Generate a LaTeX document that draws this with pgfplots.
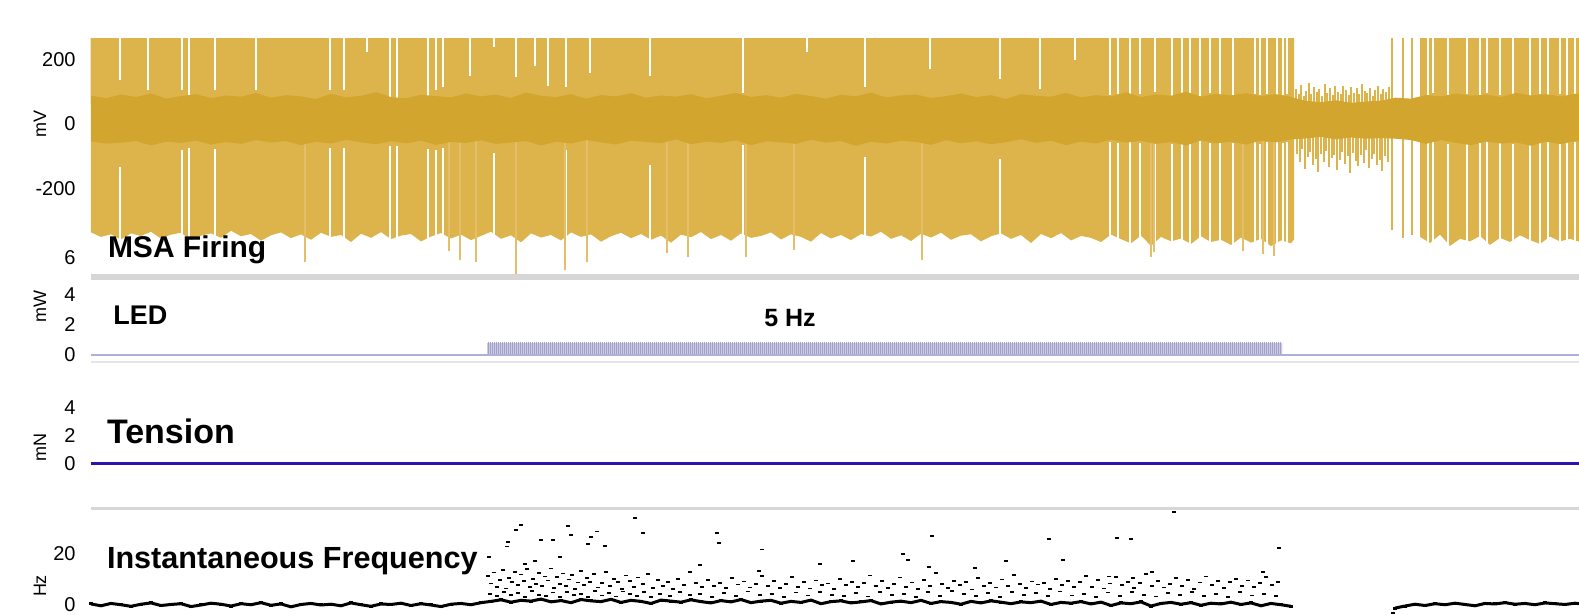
\documentclass[border=0pt]{standalone}
\usepackage{pgfplots}
\pgfplotsset{compat=1.18}
\usepackage{pgfplotstable}
\usepackage{fontspec}
\setmainfont{Liberation Sans}
\usetikzlibrary{patterns.meta}
\definecolor{spike}{RGB}{221,180,76}
\definecolor{core}{RGB}{210,165,46}
\definecolor{gap}{RGB}{255,255,255}
\definecolor{tail}{RGB}{228,190,105}
\definecolor{ledfill}{RGB}{204,204,228}
\definecolor{ledstripe}{RGB}{160,160,202}
\definecolor{ledline}{RGB}{175,175,215}
\definecolor{tens}{RGB}{42,22,172}
\definecolor{sep}{RGB}{214,214,214}
\definecolor{sepl}{RGB}{228,228,236}

% MSA: spike envelope, firing period 1 (top corners + jagged lower edge)
\pgfplotstableread[row sep=\\]{x y\\
90.6 300\\ 91 -338\\ 101 -352\\ 111 -344\\ 121 -360\\ 131 -341\\ 141 -349\\ 151 -336\\ 161 -357\\ 171 -345\\ 181 -339\\ 191 -362\\ 201 -348\\ 211 -341\\ 221 -355\\ 231 -333\\ 241 -350\\ 251 -343\\ 261 -364\\ 271 -347\\ 281 -338\\ 291 -356\\ 301 -344\\ 311 -361\\ 321 -339\\ 331 -352\\ 341 -346\\ 351 -368\\ 361 -342\\ 371 -355\\ 381 -337\\ 391 -359\\ 401 -348\\ 411 -343\\ 421 -366\\ 431 -351\\ 441 -340\\ 451 -357\\ 461 -345\\ 471 -362\\ 481 -349\\ 491 -336\\ 501 -358\\ 511 -347\\ 521 -369\\ 531 -341\\ 541 -354\\ 551 -346\\ 561 -363\\ 571 -338\\ 581 -352\\ 591 -344\\ 601 -367\\ 611 -350\\ 621 -339\\ 631 -356\\ 641 -343\\ 651 -361\\ 661 -348\\ 671 -370\\ 681 -345\\ 691 -353\\ 701 -337\\ 711 -359\\ 721 -346\\ 731 -364\\ 741 -341\\ 751 -355\\ 761 -349\\ 771 -338\\ 781 -360\\ 791 -344\\ 801 -352\\ 811 -367\\ 821 -340\\ 831 -357\\ 841 -346\\ 851 -362\\ 861 -343\\ 871 -351\\ 881 -336\\ 891 -358\\ 901 -347\\ 911 -365\\ 921 -342\\ 931 -354\\ 941 -339\\ 951 -361\\ 961 -348\\ 971 -344\\ 981 -366\\ 991 -350\\ 1001 -341\\ 1011 -358\\ 1021 -346\\ 1031 -371\\ 1041 -343\\ 1051 -356\\ 1061 -340\\ 1071 -363\\ 1081 -349\\ 1091 -355\\ 1101 -368\\ 1111 -345\\ 1121 -359\\ 1131 -372\\ 1141 -348\\ 1151 -380\\ 1161 -352\\ 1171 -366\\ 1181 -357\\ 1191 -374\\ 1201 -350\\ 1211 -368\\ 1221 -361\\ 1231 -377\\ 1241 -354\\ 1251 -370\\ 1261 -358\\ 1271 -381\\ 1281 -363\\ 1291 -372\\ 1294 -360\\ 1294 300\\
}\envA

% MSA: spike envelope, firing period 2
\pgfplotstableread[row sep=\\]{x y\\
1420 300\\ 1420 -352\\ 1430 -371\\ 1440 -345\\ 1450 -380\\ 1460 -358\\ 1470 -366\\ 1480 -349\\ 1490 -377\\ 1500 -355\\ 1510 -368\\ 1520 -347\\ 1530 -362\\ 1540 -374\\ 1550 -351\\ 1560 -366\\ 1570 -358\\ 1582 -370\\ 1582 300\\
}\envB

% MSA: gaps between spikes, upper half (y0 = lower end of gap, len = length)
\pgfplotstableread[row sep=\\]{x y0 len\\
120 137 213\\ 182 106 244\\ 189 80 270\\ 215 106 244\\ 330 106 244\\ 344 106 244\\ 367 225 125\\ 390 75 275\\ 428 80 270\\ 436 106 244\\ 443 115 235\\ 470 150 200\\ 494 240 110\\ 535 180 170\\ 548 120 230\\ 566 115 235\\ 590 160 190\\ 650 150 200\\ 743 97 253\\ 807 225 125\\ 865 115 235\\ 930 170 180\\ 1000 140 210\\ 1075 200 150\\ 1110 90 260\\ 1118 95 255\\ 1130 88 262\\ 1140 92 258\\ 1155 100 250\\ 1172 86 264\\ 1182 94 256\\ 1190 90 260\\ 1210 96 254\\ 1220 91 259\\ 1255 93 257\\ 1260 89 261\\ 1267 95 255\\ 1283 90 260\\ 1287 92 258\\ 1428 90 260\\ 1433 96 254\\ 1448 88 262\\ 1467 94 256\\ 1480 91 259\\ 1487 97 253\\ 1513 93 257\\ 1530 87 263\\ 1548 90 260\\ 1560 92 258\\ 1567 88 262\\ 1575 94 256\\
}\gapsTop
\pgfplotstableread[row sep=\\]{x y0 len\\
148 106 244\\ 256 106 244\\ 397 75 275\\ 516 145 205\\ 1040 110 240\\ 1200 88 262\\ 1233 87 263\\ 1277 86 264\\ 1500 89 261\\ 1540 95 255\\
}\gapsTopWide
% MSA: gaps between spikes, lower half
\pgfplotstableread[row sep=\\]{x y0 len\\
120 -420 286\\ 182 -420 339\\ 189 -420 345\\ 215 -420 342\\ 330 -420 345\\ 344 -420 345\\ 390 -420 350\\ 428 -420 342\\ 436 -420 339\\ 443 -420 345\\ 494 -420 330\\ 566 -420 339\\ 650 -420 292\\ 743 -420 355\\ 865 -420 317\\ 1000 -420 310\\ 1110 -420 365\\ 1118 -420 360\\ 1130 -420 368\\ 1140 -420 362\\ 1155 -420 365\\ 1172 -420 358\\ 1182 -420 366\\ 1190 -420 363\\ 1210 -420 360\\ 1220 -420 365\\ 1255 -420 367\\ 1260 -420 359\\ 1267 -420 364\\ 1283 -420 361\\ 1287 -420 365\\ 1428 -420 362\\ 1433 -420 365\\ 1448 -420 358\\ 1467 -420 366\\ 1480 -420 360\\ 1487 -420 363\\ 1513 -420 359\\ 1530 -420 364\\ 1548 -420 366\\ 1560 -420 358\\ 1567 -420 363\\ 1575 -420 365\\
}\gapsBot
\pgfplotstableread[row sep=\\]{x y0 len\\
397 -420 350\\ 1200 -420 368\\ 1233 -420 362\\ 1277 -420 368\\ 1500 -420 367\\ 1540 -420 361\\
}\gapsBotWide

% MSA: single spikes (onset of period 2)
\pgfplotstableread[row sep=\\]{x y\\
1392 300\\ 1392 -330\\ 1403 300\\ 1403 -355\\ 1412 300\\ 1412 -345\\
}\isoSpikes
% MSA: small spikes of the quiet period
\pgfplotstableread[row sep=\\]{x y\\
1296 110\\ 1299 95\\ 1301 122\\ 1304 88\\ 1306 104\\ 1309 128\\ 1311 92\\ 1314 115\\ 1317 99\\ 1319 108\\ 1322 86\\ 1325 125\\ 1327 97\\ 1330 112\\ 1333 90\\ 1335 118\\ 1338 101\\ 1341 94\\ 1343 120\\ 1346 106\\ 1349 89\\ 1351 116\\ 1354 98\\ 1357 111\\ 1359 93\\ 1362 124\\ 1365 102\\ 1367 96\\ 1370 113\\ 1373 88\\ 1375 107\\ 1378 119\\ 1381 95\\ 1383 110\\ 1386 100\\ 1389 114\\
1297 -95\\ 1300 -120\\ 1302 -78\\ 1305 -140\\ 1308 -102\\ 1310 -88\\ 1313 -128\\ 1316 -110\\ 1318 -150\\ 1321 -92\\ 1324 -118\\ 1326 -84\\ 1329 -135\\ 1332 -105\\ 1334 -96\\ 1337 -145\\ 1340 -112\\ 1342 -86\\ 1345 -124\\ 1348 -100\\ 1350 -153\\ 1353 -90\\ 1356 -115\\ 1358 -132\\ 1361 -98\\ 1364 -121\\ 1366 -80\\ 1369 -138\\ 1372 -108\\ 1374 -94\\ 1377 -127\\ 1380 -112\\ 1382 -146\\ 1385 -99\\ 1388 -118\\
}\quietSpikes
% MSA: long negative tails
\pgfplotstableread[row sep=\\]{x y\\
305 -430\\ 449 -395\\ 460 -424\\ 476 -430\\ 516 -468\\ 565 -455\\ 587 -430\\ 667 -402\\ 688 -415\\ 746 -415\\ 794 -393\\ 922 -424\\ 1151 -415\\ 1154 -399\\ 1243 -395\\ 1263 -405\\ 1274 -412\\
}\tails

% MSA: dense core (upper edge left to right, lower edge right to left)
\pgfplotstableread[row sep=\\]{x y\\
91 88\\ 106 80\\ 121 92\\ 136 84\\ 151 95\\ 166 79\\ 181 87\\ 196 93\\ 211 81\\ 226 89\\ 241 85\\ 256 97\\ 271 82\\ 286 90\\ 301 86\\ 316 78\\ 331 94\\ 346 83\\ 361 88\\ 376 99\\ 391 84\\ 406 80\\ 421 91\\ 436 87\\ 451 83\\ 466 95\\ 481 86\\ 496 92\\ 511 81\\ 526 98\\ 541 88\\ 556 84\\ 571 93\\ 586 79\\ 601 90\\ 616 86\\ 631 96\\ 646 82\\ 661 89\\ 676 85\\ 691 93\\ 706 80\\ 721 88\\ 736 97\\ 751 84\\ 766 90\\ 781 82\\ 796 94\\ 811 87\\ 826 79\\ 841 91\\ 856 86\\ 871 98\\ 886 83\\ 901 89\\ 916 92\\ 931 81\\ 946 87\\ 961 95\\ 976 84\\ 991 90\\ 1006 78\\ 1021 93\\ 1036 88\\ 1051 85\\ 1066 97\\ 1081 83\\ 1096 90\\ 1111 86\\ 1126 99\\ 1141 84\\ 1156 92\\ 1171 88\\ 1186 101\\ 1201 85\\ 1216 94\\ 1231 89\\ 1246 96\\ 1261 87\\ 1276 93\\ 1291 84\\ 1306 72\\ 1321 68\\ 1336 74\\ 1351 66\\ 1366 70\\ 1381 73\\ 1396 82\\ 1411 79\\ 1426 90\\ 1441 86\\ 1456 95\\ 1471 88\\ 1486 92\\ 1501 84\\ 1516 97\\ 1531 89\\ 1546 93\\ 1561 86\\ 1576 95\\ 1582 90\\
1582 -58\\ 1576 -52\\ 1561 -63\\ 1546 -55\\ 1531 -68\\ 1516 -57\\ 1501 -61\\ 1486 -54\\ 1471 -66\\ 1456 -59\\ 1441 -50\\ 1426 -62\\ 1411 -50\\ 1396 -46\\ 1381 -44\\ 1366 -46\\ 1351 -42\\ 1336 -48\\ 1321 -40\\ 1306 -45\\ 1291 -48\\ 1276 -57\\ 1261 -52\\ 1246 -64\\ 1231 -55\\ 1216 -60\\ 1201 -51\\ 1186 -67\\ 1171 -56\\ 1156 -62\\ 1141 -53\\ 1126 -58\\ 1111 -49\\ 1096 -61\\ 1081 -55\\ 1066 -66\\ 1051 -52\\ 1036 -59\\ 1021 -47\\ 1006 -57\\ 991 -63\\ 976 -54\\ 961 -60\\ 946 -50\\ 931 -65\\ 916 -56\\ 901 -52\\ 886 -61\\ 871 -55\\ 856 -68\\ 841 -53\\ 826 -58\\ 811 -49\\ 796 -62\\ 781 -57\\ 766 -54\\ 751 -66\\ 736 -51\\ 721 -59\\ 706 -55\\ 691 -63\\ 676 -48\\ 661 -60\\ 646 -56\\ 631 -52\\ 616 -64\\ 601 -57\\ 586 -50\\ 571 -61\\ 556 -55\\ 541 -67\\ 526 -53\\ 511 -58\\ 496 -62\\ 481 -51\\ 466 -59\\ 451 -56\\ 436 -65\\ 421 -52\\ 406 -60\\ 391 -54\\ 376 -63\\ 361 -57\\ 346 -49\\ 331 -61\\ 316 -55\\ 301 -66\\ 286 -53\\ 271 -58\\ 256 -50\\ 241 -62\\ 226 -56\\ 211 -64\\ 196 -52\\ 181 -59\\ 166 -55\\ 151 -67\\ 136 -53\\ 121 -58\\ 106 -61\\ 91 -54\\
}\core

% Instantaneous frequency: baseline firing
\pgfplotstableread[row sep=\\]{x y\\
91 0.4\\ 101 -0.3\\ 111 0.6\\ 121 0.1\\ 131 -0.5\\ 141 0.3\\ 151 0.8\\ 161 -0.2\\ 171 0.2\\ 181 0.5\\ 191 -0.6\\ 201 0.0\\ 211 0.7\\ 221 0.3\\ 231 -0.4\\ 241 0.5\\ 251 0.1\\ 261 0.9\\ 271 -0.1\\ 281 0.4\\ 291 -0.7\\ 301 0.2\\ 311 0.6\\ 321 0.0\\ 331 0.3\\ 341 -0.3\\ 351 0.8\\ 361 0.1\\ 371 -0.5\\ 381 0.4\\ 391 0.2\\ 401 0.7\\ 411 -0.2\\ 421 0.5\\ 431 0.0\\ 441 -0.6\\ 451 0.3\\ 461 0.6\\ 471 0.1\\ 481 0.9\\
491 1.4\\ 501 2.0\\ 511 1.1\\ 521 1.8\\ 531 1.5\\ 541 2.3\\ 551 1.2\\ 561 1.7\\ 571 0.9\\ 581 2.1\\ 591 1.6\\ 601 1.3\\ 611 2.2\\ 621 1.0\\ 631 1.8\\ 641 1.4\\ 651 0.6\\ 661 1.9\\ 671 1.5\\ 681 1.1\\ 691 2.0\\ 701 1.3\\ 711 0.8\\ 721 1.7\\ 731 1.2\\ 741 2.1\\ 751 0.9\\ 761 1.5\\ 771 1.8\\ 781 0.7\\ 791 1.4\\ 801 1.0\\ 811 1.9\\ 821 0.5\\ 831 1.3\\ 841 1.6\\ 851 0.8\\ 861 1.2\\ 871 1.7\\ 881 0.4\\ 891 1.1\\ 901 1.5\\ 911 0.9\\ 921 1.8\\ 931 0.6\\ 941 1.3\\ 951 1.0\\ 961 0.3\\ 971 1.4\\ 981 0.8\\ 991 1.6\\ 1001 1.1\\ 1011 0.5\\ 1021 1.2\\ 1031 0.9\\ 1041 1.5\\ 1051 0.2\\ 1061 1.0\\ 1071 0.7\\ 1081 1.3\\ 1091 0.4\\ 1101 1.1\\ 1111 -0.2\\ 1121 0.8\\ 1131 0.5\\ 1141 1.2\\ 1151 -0.4\\ 1161 0.6\\ 1171 1.0\\ 1181 0.3\\ 1191 0.9\\ 1201 -0.1\\ 1211 0.7\\ 1221 0.4\\ 1231 1.1\\ 1241 0.2\\ 1251 0.8\\ 1261 -0.3\\ 1271 0.6\\ 1281 0.1\\ 1291 -0.5\\
}\ifbaseA
\pgfplotstableread[row sep=\\]{x y\\
1395 -1.2\\ 1405 -0.4\\ 1415 0.3\\ 1425 -0.2\\ 1435 0.5\\ 1445 0.1\\ 1455 0.7\\ 1465 0.2\\ 1475 -0.3\\ 1485 0.6\\ 1495 0.4\\ 1505 0.9\\ 1515 0.3\\ 1525 0.6\\ 1535 0.1\\ 1545 0.8\\ 1555 0.5\\ 1565 0.2\\ 1575 0.7\\ 1582 0.4\\
}\ifbaseB

% Instantaneous frequency: individual intervals during stimulation
\pgfplotstableread[row sep=\\]{x y\\
488 11.2\\ 491 8.3\\ 494 12.6\\ 497 7.1\\ 500 9.8\\ 503 13.4\\ 506 6.4\\ 509 10.5\\ 512 8.9\\ 515 12.9\\ 518 7.6\\ 521 11.8\\ 524 9.2\\ 527 13.8\\ 530 6.9\\ 533 10.1\\ 536 8.2\\ 539 12.4\\ 542 7.4\\ 545 11.0\\ 548 9.5\\ 551 14.1\\ 554 6.6\\ 557 10.8\\ 560 8.0\\ 563 12.2\\ 566 7.2\\ 569 9.9\\ 572 11.6\\ 575 6.2\\ 578 8.7\\ 581 13.1\\ 584 7.8\\ 587 10.3\\ 590 9.0\\ 594 11.9\\ 598 6.8\\ 602 8.5\\ 606 12.7\\ 610 7.5\\ 614 10.0\\ 618 8.8\\ 622 6.3\\ 626 11.4\\ 630 9.3\\ 634 7.0\\ 638 10.6\\ 643 8.1\\ 648 12.0\\ 653 6.7\\
658 9.6\\ 663 7.3\\ 668 8.9\\ 673 6.1\\ 678 10.2\\ 684 7.7\\ 690 12.8\\ 696 8.4\\ 702 6.9\\ 708 9.7\\ 714 7.2\\ 720 8.6\\ 726 6.5\\ 732 10.4\\ 738 7.9\\ 744 9.1\\ 750 6.8\\ 756 8.2\\ 762 11.1\\ 768 7.4\\ 774 9.3\\ 780 6.6\\ 786 8.0\\ 792 10.9\\ 798 7.1\\ 804 8.8\\ 810 6.4\\ 816 9.5\\ 822 7.6\\ 828 8.3\\ 834 6.2\\ 840 10.1\\ 846 7.8\\ 852 9.0\\ 858 6.9\\ 864 8.5\\ 870 11.4\\ 876 7.3\\ 882 9.2\\ 888 6.7\\ 894 8.1\\ 900 10.6\\ 906 7.0\\ 912 8.7\\ 918 6.3\\ 924 9.8\\ 930 7.5\\ 936 12.3\\ 942 8.2\\ 948 6.6\\ 954 9.4\\ 960 7.7\\ 966 8.9\\ 972 6.0\\ 978 10.3\\ 984 7.2\\ 990 8.6\\ 996 6.8\\ 1002 9.9\\ 1008 7.4\\ 1014 11.7\\ 1020 8.0\\ 1026 6.5\\ 1032 9.1\\ 1038 7.9\\ 1044 8.4\\ 1050 6.2\\ 1056 10.0\\ 1062 7.6\\ 1068 9.3\\ 1074 6.9\\ 1080 8.8\\ 1086 11.2\\ 1092 7.1\\ 1098 9.6\\ 1104 6.4\\ 1110 8.3\\ 1116 10.8\\ 1122 7.8\\ 1128 9.0\\ 1134 6.6\\ 1140 8.5\\ 1146 12.0\\ 1152 7.3\\ 1158 9.4\\ 1164 6.8\\ 1170 8.1\\ 1176 10.5\\ 1182 7.5\\ 1188 9.8\\ 1194 6.3\\ 1200 8.7\\ 1206 11.0\\ 1212 7.7\\ 1218 9.2\\ 1224 6.5\\ 1230 8.9\\ 1236 10.2\\ 1242 7.2\\ 1248 9.5\\ 1254 6.9\\ 1260 8.4\\ 1266 10.9\\ 1272 7.6\\ 1278 9.0\\
490 4.2\\ 497 3.4\\ 504 5.1\\ 511 3.8\\ 518 4.6\\ 525 3.1\\ 532 5.4\\ 539 4.0\\ 546 3.5\\ 553 4.8\\ 560 3.2\\ 567 5.0\\ 574 3.9\\ 581 4.4\\ 588 3.0\\ 595 5.3\\ 602 3.7\\ 609 4.5\\ 616 3.3\\ 623 5.2\\ 630 4.1\\ 637 3.6\\ 644 4.9\\ 651 3.2\\ 660 4.3\\ 670 3.5\\ 680 5.0\\ 690 3.8\\ 700 4.4\\ 712 3.1\\ 724 4.7\\ 736 3.6\\ 748 5.2\\ 760 3.9\\ 772 4.3\\ 784 3.2\\ 796 4.8\\ 808 3.7\\ 820 5.1\\ 832 4.0\\ 844 3.4\\ 856 4.6\\ 868 3.3\\ 880 5.0\\ 892 3.8\\ 904 4.4\\ 916 3.1\\ 928 4.9\\ 940 3.6\\ 952 5.3\\ 964 4.1\\ 976 3.5\\ 988 4.7\\ 1000 3.2\\ 1012 5.0\\ 1024 3.9\\ 1036 4.5\\ 1048 3.4\\ 1060 5.2\\ 1072 3.7\\ 1084 4.3\\ 1096 3.0\\ 1108 4.8\\ 1120 3.6\\ 1132 5.1\\ 1144 4.0\\ 1156 3.3\\ 1168 4.6\\ 1180 3.8\\ 1192 5.0\\ 1204 3.5\\ 1216 4.4\\ 1228 3.1\\ 1240 4.9\\ 1252 3.7\\ 1264 4.2\\ 1276 3.4\\
516 29.0\\ 521 30.9\\ 508 24.5\\ 507 22.6\\ 541 25.1\\ 553 25.1\\ 568 30.6\\ 571 27.0\\ 591 26.4\\ 597 28.4\\ 588 23.6\\ 605 22.8\\ 635 33.5\\ 643 27.7\\ 717 28.0\\ 719 23.9\\ 762 21.5\\ 932 26.7\\ 1049 25.4\\ 1117 26.0\\ 1131 25.6\\ 903 19.7\\ 908 17.4\\ 929 14.6\\ 853 17.0\\ 1006 17.1\\ 759 13.3\\ 535 16.9\\ 489 18.7\\ 1174 36.0\\ 1279 22.0\\ 1152 12.9\\ 1263 12.8\\ 1109 11.0\\ 1133 10.4\\ 1063 17.5\\ 820 16.0\\ 700 15.5\\ 975 14.2\\ 560 18.5\\ 525 15.8\\ 1393 -3.0\\
}\ifscatter

\pgfplotsset{panel/.style={
  scale only axis, width=744.2pt, anchor=south west,
  xmin=90.6, xmax=1579,
  axis line style={draw=none}, tick style={draw=none},
  major tick length=0pt, xtick=\empty,
  yticklabel style={font=\fontsize{10}{12}\selectfont, anchor=east, inner sep=0pt, xshift=-7.3pt},
},
gapbars/.style={draw=none, mark=none,
  error bars/.cd, y dir=plus, y explicit, error mark=none,
  error bar style={draw=gap, line width=#1}}}

\begin{document}
\begin{tikzpicture}
\useasboundingbox (0,0) rectangle (789.5pt,307.5pt);

% ---------------- MSA firing ----------------
\begin{axis}[panel, at={(45.3pt,170.5pt)}, height=117.85pt,
  ymin=-467.7, ymax=267.2, ytick={-200,0,200}, yticklabels={-200,0,200}]
  \addplot[fill=spike, draw=none] table[x=x,y=y]{\envA};
  \addplot[fill=spike, draw=none] table[x=x,y=y]{\envB};
  \addplot[ycomb, draw=spike, line width=0.7pt] table[x=x,y=y]{\isoSpikes};
  \addplot[gapbars=0.55pt] table[x=x,y=y0,y error=len]{\gapsTop};
  \addplot[gapbars=1.1pt] table[x=x,y=y0,y error=len]{\gapsTopWide};
  \addplot[gapbars=0.55pt] table[x=x,y=y0,y error=len]{\gapsBot};
  \addplot[gapbars=1.1pt] table[x=x,y=y0,y error=len]{\gapsBotWide};
  \addplot[ycomb, draw=spike, line width=0.65pt] table[x=x,y=y]{\quietSpikes};
  \addplot[ycomb, draw=tail, line width=0.55pt] table[x=x,y=y]{\tails};
  \addplot[fill=core, draw=none] table[x=x,y=y]{\core};
\end{axis}

% ---------------- LED ----------------
\begin{axis}[panel, at={(45.3pt,127pt)}, height=40pt,
  ymin=-0.396, ymax=4.884, ytick={0,2,4}, yticklabels={0,2,4}]
  \addplot[fill=ledfill, draw=none] coordinates {(487,0) (487,0.81) (1282,0.81) (1282,0)};
  \addplot[pattern={Lines[angle=90,distance=1pt,line width=0.45pt]}, pattern color=ledstripe, draw=none]
    coordinates {(487,0) (487,0.81) (1282,0.81) (1282,0)};
  \addplot[color=ledline, line width=0.7pt] coordinates {(90.6,0) (487,0) (1282,0) (1582,0)};
\end{axis}

% ---------------- Tension ----------------
\begin{axis}[panel, at={(45.3pt,54pt)}, height=72pt,
  ymin=-3.107, ymax=7.179, ytick={0,2,4}, yticklabels={0,2,4}]
  \addplot[color=tens, line width=1.1pt] coordinates {(90.6,0) (1582,0)};
\end{axis}

% ---------------- Instantaneous frequency ----------------
\begin{axis}[panel, at={(45.3pt,0pt)}, height=52.5pt,
  ymin=-3.868, ymax=36.75, ytick={0,20}, yticklabels={0,20}]
  \addplot[black, line width=1.5pt, mark=-, mark size=1pt] table[x=x,y=y]{\ifbaseA};
  \addplot[black, line width=1.5pt, mark=-, mark size=1pt] table[x=x,y=y]{\ifbaseB};
  \addplot[only marks, mark=-, mark size=1pt, mark options={line width=0.9pt, black}] table[x=x,y=y]{\ifscatter};
\end{axis}

% panel separators
\fill[sep] (45.3pt,167.3pt) rectangle (789.5pt,170.3pt);
\fill[sepl] (45.3pt,126pt) rectangle (789.5pt,126.9pt);
\fill[sep] (45.3pt,52.6pt) rectangle (789.5pt,54.1pt);

% unit labels
\begin{scope}[every node/.style={font=\fontsize{9}{10}\selectfont, rotate=90, anchor=center}]
\node at (20pt,245.5pt) {mV};
\node at (20pt,154pt) {mW};
\node at (20pt,83.5pt) {mN};
\node at (20pt,14.5pt) {Hz};
\end{scope}
\node[font=\fontsize{10}{12}\selectfont, anchor=east, inner sep=0pt] at (38pt,178.5pt) {6};

% panel titles
\node[font=\fontsize{15}{18}\selectfont\bfseries, anchor=base west, inner sep=0pt] at (53.8pt,178.8pt) {MSA Firing};
\node[font=\fontsize{13.5}{16}\selectfont\bfseries, anchor=base west, inner sep=0pt] at (56.5pt,145pt) {LED};
\node[font=\fontsize{12.5}{15}\selectfont\bfseries, anchor=base, inner sep=0pt] at (395pt,144pt) {5 Hz};
\node[font=\fontsize{17}{20}\selectfont\bfseries, anchor=base west, inner sep=0pt] at (53.3pt,85.5pt) {Tension};
\node[font=\fontsize{15.3}{18}\selectfont\bfseries, anchor=base west, inner sep=0pt] at (53.3pt,23pt) {Instantaneous Frequency};
\end{tikzpicture}
\end{document}
